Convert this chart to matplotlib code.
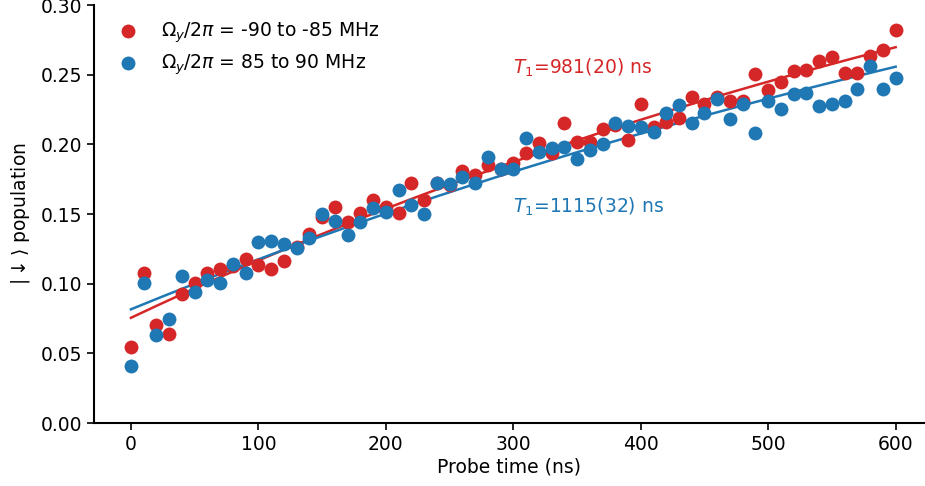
import numpy as np
import matplotlib
matplotlib.use('Agg')
import matplotlib.pyplot as plt

# probe times (ns) and measured |down> populations
t = np.arange(0, 601, 10)

pop_neg = [0.0543, 0.1078, 0.0703, 0.0636, 0.0923, 0.1007, 0.1078, 0.1102, 0.113, 0.1176,
           0.1133, 0.1105, 0.1162, 0.126, 0.1353, 0.148, 0.1547, 0.1444, 0.1509, 0.160,
           0.1547, 0.1509, 0.1719, 0.160, 0.172, 0.171, 0.1808, 0.1779, 0.185, 0.182,
           0.1867, 0.1939, 0.2013, 0.1935, 0.215, 0.2018, 0.2018, 0.2109, 0.214, 0.203,
           0.2288, 0.2125, 0.2161, 0.2186, 0.234, 0.2293, 0.234, 0.231, 0.2312, 0.2504,
           0.2393, 0.2449, 0.2525, 0.2532, 0.2599, 0.2628, 0.2513, 0.2509, 0.2635, 0.2676,
           0.2819]
pop_pos = [0.0409, 0.1002, 0.0631, 0.0744, 0.1054, 0.0942, 0.1026, 0.1007, 0.1141, 0.108,
           0.1296, 0.1308, 0.1284, 0.1258, 0.1329, 0.1497, 0.1449, 0.1352, 0.1444, 0.154,
           0.1516, 0.1671, 0.1564, 0.1497, 0.1719, 0.1714, 0.1767, 0.1719, 0.191, 0.182,
           0.182, 0.2047, 0.1946, 0.1975, 0.1982, 0.1894, 0.1958, 0.2006, 0.215, 0.213,
           0.2125, 0.2085, 0.2222, 0.228, 0.215, 0.2226, 0.2322, 0.2179, 0.2293, 0.2083,
           0.2312, 0.2255, 0.236, 0.2372, 0.2274, 0.2288, 0.231, 0.240, 0.2561, 0.240,
           0.2473]

# fit parameters: p(t) = p_inf - amp * exp(-t / T1)
T1_neg, amp_neg = 981, 0.4245
T1_pos, amp_pos = 1115, 0.4184
p_inf = 0.5

red = '#d62728'
blue = '#1f77b4'

plt.rcParams['font.size'] = 13.5

fig = plt.figure(figsize=(9.25, 4.86), dpi=100)
ax = fig.add_axes([0.1016, 0.1296, 0.8984, 0.8601])

tf = np.linspace(0, 600, 200)
ax.plot(tf, p_inf - amp_neg * np.exp(-tf / T1_neg), color=red, lw=1.8)
ax.plot(tf, p_inf - amp_pos * np.exp(-tf / T1_pos), color=blue, lw=1.8)

ax.scatter(t, pop_neg, s=100, color=red, lw=0, label=r'$\Omega_y/2\pi$ = -90 to -85 MHz', zorder=3)
ax.scatter(t, pop_pos, s=100, color=blue, lw=0, label=r'$\Omega_y/2\pi$ = 85 to 90 MHz', zorder=3)

ax.text(300, 0.255, r'$T_1$=981(20) ns', color=red, va='center')
ax.text(300, 0.155, r'$T_1$=1115(32) ns', color=blue, va='center')

ax.set_xlim(-29, 623)
ax.set_ylim(0, 0.30)
ax.set_xticks(np.arange(0, 601, 100))
ax.set_yticks(np.arange(0, 0.301, 0.05))
ax.yaxis.set_major_formatter(matplotlib.ticker.FormatStrFormatter('%.2f'))
ax.set_xlabel('Probe time (ns)', labelpad=3)
ax.set_ylabel(r'$|\downarrow\rangle$ population', labelpad=6)

for s in ['top', 'right']:
    ax.spines[s].set_visible(False)
for s in ['left', 'bottom']:
    ax.spines[s].set_linewidth(1.5)
ax.tick_params(width=1.2, length=5)

ax.legend(loc='upper left', frameon=False, handletextpad=0.8, borderaxespad=0.4,
          labelspacing=0.4)

fig.savefig('out.png', dpi=100)
